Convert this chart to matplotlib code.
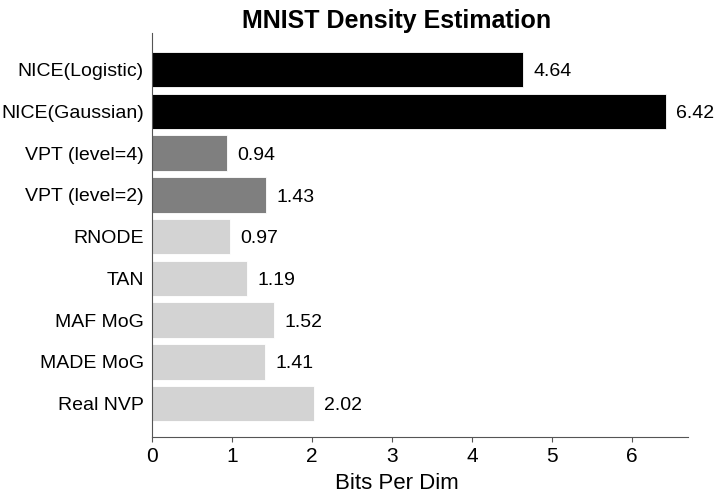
import matplotlib
matplotlib.use("Agg")
import matplotlib.pyplot as plt

plt.rcParams["font.family"] = ["Liberation Sans", "DejaVu Sans"]

methods = ["NICE(Logistic)", "NICE(Gaussian)", "VPT (level=4)", "VPT (level=2)",
           "RNODE", "TAN", "MAF MoG", "MADE MoG", "Real NVP"]
bpd = [4.64, 6.42, 0.94, 1.43, 0.97, 1.19, 1.52, 1.41, 2.02]
groups = ["nice", "nice", "vpt", "vpt", "other", "other", "other", "other", "other"]
group_colors = {"nice": "black", "vpt": "#7f7f7f", "other": "#d3d3d3"}

fig, ax = plt.subplots(figsize=(7.14, 4.98), dpi=100)
fig.subplots_adjust(left=152 / 714, right=688 / 714, top=1 - 33 / 498, bottom=1 - 437 / 498)

ypos = list(range(len(methods)))
colors = [group_colors[g] for g in groups]
ax.barh(ypos, bpd, height=0.85, color=colors, edgecolor="white", linewidth=0.6)

for y, v in zip(ypos, bpd):
    ax.text(v + 0.13, y + 0.05, f"{v:.2f}", va="center", ha="left", fontsize=14)

ax.set_yticks(ypos)
ax.set_yticklabels(methods, fontsize=14)
ax.set_ylim(len(methods) - 0.2, -0.88)
ax.set_xlim(0, 6.7)
ax.set_xticks(range(7))
ax.tick_params(axis="x", labelsize=15, color="#555555")
ax.tick_params(axis="y", length=0, pad=6)
for side in ["top", "right"]:
    ax.spines[side].set_visible(False)
for side in ["left", "bottom"]:
    ax.spines[side].set_color("#555555")
# title and x label sit a little left of the axes centre in the original
ax.set_xlabel("Bits Per Dim", fontsize=16, labelpad=5, x=0.457)
ax.set_title("MNIST Density Estimation", fontsize=18, fontweight="bold", pad=3, x=0.457)

fig.savefig("out.png", dpi=100)
